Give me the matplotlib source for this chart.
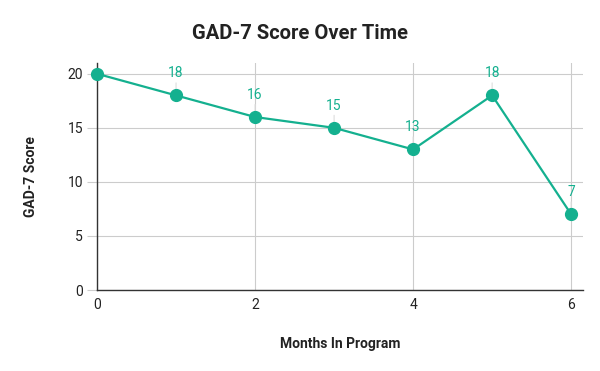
import matplotlib.pyplot as plt

# data
months = [0, 1, 2, 3, 4, 5, 6]
scores = [20, 18, 16, 15, 13, 18, 7]
x_ticks = [0, 2, 4, 6]
y_ticks = [0, 5, 10, 15, 20]

teal = "#14b08f"
grid_c = "#cccccc"
text_c = "#222222"

plt.rcParams["font.family"] = ["Roboto", "DejaVu Sans"]

fig = plt.figure(figsize=(6, 3.71), dpi=100)
ax = fig.add_axes([0.1617, 0.2183, 0.81, 0.612])

ax.plot(months, scores, color=teal, lw=1.6, marker="o", ms=8.5, clip_on=False, zorder=3)

# value labels with a short leader line (first point has none)
for m, s in zip(months[1:], scores[1:]):
    ax.annotate(str(s), xy=(m, s), xytext=(0, 11), textcoords="offset points",
                ha="center", va="bottom", color=teal, fontsize=10, zorder=2,
                arrowprops=dict(arrowstyle="-", color="#dddddd", lw=0.8, shrinkA=0, shrinkB=4))

ax.set_xlim(0, 6.15)
ax.set_ylim(0, 21)
ax.set_xticks(x_ticks)
ax.set_yticks(y_ticks)
ax.grid(True, color=grid_c, lw=0.8)
ax.set_axisbelow(True)

for side in ["top", "right"]:
    ax.spines[side].set_visible(False)
for side in ["left", "bottom"]:
    ax.spines[side].set_color("#333333")
    ax.spines[side].set_linewidth(1.0)

ax.tick_params(axis="y", length=7, color=grid_c, labelsize=10, labelcolor=text_c, pad=3)
ax.tick_params(axis="x", length=0, labelsize=10, labelcolor=text_c, pad=6)

ax.set_xlabel("Months In Program", fontsize=10, fontweight="bold", color=text_c, labelpad=18)
ax.set_ylabel("GAD-7 Score", fontsize=10, fontweight="bold", color=text_c, labelpad=21)
fig.suptitle("GAD-7 Score Over Time", fontsize=14.5, fontweight="bold", color=text_c, x=0.5, y=0.935)

fig.savefig("out.png", dpi=100)
